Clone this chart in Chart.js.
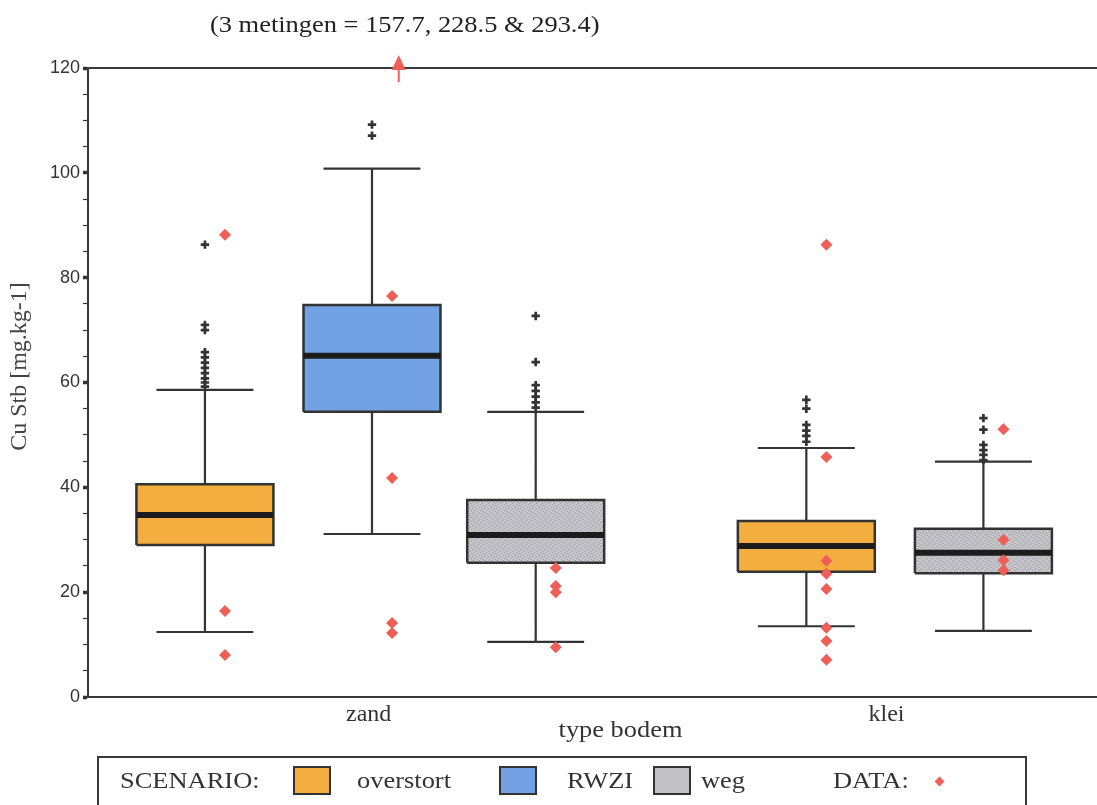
<!DOCTYPE html>
<html>
<head>
<meta charset="utf-8">
<script src="https://cdn.jsdelivr.net/npm/chart.js@4/dist/chart.umd.min.js"></script>
<style>
html,body{margin:0;padding:0;background:#fff;}
#wrap{position:relative;width:1097px;height:805px;overflow:hidden;background:#fff;}
#c{position:absolute;left:0;top:0;}
#legend{position:absolute;left:97px;top:756px;width:930px;height:80px;border:2px solid #3a3a3a;box-sizing:border-box;font-family:"Liberation Serif","Times New Roman",serif;font-size:23px;color:#333;}
#legend .t{position:absolute;top:9px;white-space:nowrap;transform:scaleX(1.15);transform-origin:left center;line-height:28px;}
#legend .sw{position:absolute;top:8px;width:38px;height:29px;border:2px solid #333;box-sizing:border-box;}
#legend .dm{position:absolute;top:20px;width:7px;height:7px;background:#ef5f57;transform:rotate(45deg);}
</style>
</head>
<body>
<div id="wrap">
<canvas id="c" width="1097" height="805"></canvas>
<div id="legend"></div>
</div>
<script>
// ---- data ----
const groups = ['zand', 'klei'];
const groupCenters = [1.98, 5.08];
const scenarios = ['overstort', 'RWZI', 'weg'];
const boxScenario = ['overstort', 'RWZI', 'weg', 'overstort', 'weg'];
const boxPos = [1.0, 2.0, 2.98, 4.60, 5.66];
const q1 = [29.0, 54.4, 25.6, 23.9, 23.6];
const medians = [34.7, 65.1, 30.9, 28.8, 27.5];
const q3 = [40.6, 74.8, 37.6, 33.6, 32.1];
const whiskerLow = [12.4, 31.1, 10.5, 13.5, 12.6];
const whiskerHigh = [58.6, 100.8, 54.4, 47.5, 44.9];
const outliers = [
  [86.3, 71.0, 70.0, 65.8, 64.8, 63.8, 62.8, 61.8, 60.8, 60.0, 59.2],
  [109.2, 107.1],
  [72.7, 63.9, 59.5, 58.4, 57.3, 56.2, 55.2],
  [56.7, 55.0, 51.9, 50.8, 49.8, 48.7],
  [53.2, 51.0, 48.1, 47.1, 46.2, 45.2]
];
const measured = [
  [88.2, 16.4, 8.0],
  [76.5, 41.8, 14.1, 12.2],
  [24.6, 21.2, 20.0, 9.5],
  [86.3, 45.8, 26.0, 23.5, 20.6, 13.2, 10.7, 7.1],
  [51.1, 30.0, 26.1, 24.2]
];
const offScaleNote = '(3 metingen = 157.7, 228.5 & 293.4)';
const offScaleBox = 1;
const yTitle = 'Cu Stb [mg.kg-1]';
const xTitle = 'type bodem';

// ---- styles ----
const BOX_HALF = 0.41, CAP_HALF = 0.29, DATA_OFFSET = 0.12, ARROW_OFFSET = 0.16;
function greyPattern() {
  const p = document.createElement('canvas'); p.width = 6; p.height = 6;
  const g = p.getContext('2d');
  g.fillStyle = '#bfbfc5'; g.fillRect(0, 0, 6, 6);
  g.fillStyle = '#9d9da5';
  [[0,0],[3,1],[1,3],[4,4],[2,5],[5,2]].forEach(([a,b]) => g.fillRect(a, b, 1, 1));
  g.fillStyle = '#dadade';
  [[2,0],[5,1],[0,4],[3,3],[4,5],[1,2]].forEach(([a,b]) => g.fillRect(a, b, 1, 1));
  return g.createPattern(p, 'repeat');
}
const colours = { overstort: '#f3ae3f', RWZI: '#72a1e4', weg: greyPattern() };
const swatchCss = { overstort: '#f3ae3f', RWZI: '#72a1e4', weg: '#c0c0c5' };
const dataColour = '#ef5f57';
const ink = '#333333';
const serif = '"Liberation Serif", "Times New Roman", serif';

// ---- datasets ----
const datasets = [];
datasets.push({
  label: 'DATA', order: 0,
  data: measured.flatMap((vals, i) => vals.map(v => ({ x: boxPos[i] + DATA_OFFSET, y: v }))),
  pointStyle: 'rectRot', pointRadius: 6, backgroundColor: dataColour, borderColor: dataColour, borderWidth: 0
});
datasets.push({
  label: 'outliers', order: 1,
  data: outliers.flatMap((vals, i) => vals.map(v => ({ x: boxPos[i], y: v }))),
  pointStyle: 'cross', pointRadius: 4.2, borderWidth: 2.7, borderColor: ink, backgroundColor: ink
});
datasets.push({
  label: 'median', order: 2, showLine: true, pointRadius: 0, borderColor: '#1c1c1c', borderWidth: 6,
  data: medians.flatMap((m, i) => [{ x: boxPos[i] - BOX_HALF, y: m }, { x: boxPos[i] + BOX_HALF, y: m }, { x: boxPos[i], y: null }])
});
datasets.push({
  label: 'whiskers', order: 3, showLine: true, pointRadius: 0, borderColor: ink, borderWidth: 2.2,
  data: boxPos.flatMap((c, i) => [
    { x: c, y: q3[i] }, { x: c, y: whiskerHigh[i] }, { x: c, y: null },
    { x: c - CAP_HALF, y: whiskerHigh[i] }, { x: c + CAP_HALF, y: whiskerHigh[i] }, { x: c, y: null },
    { x: c, y: q1[i] }, { x: c, y: whiskerLow[i] }, { x: c, y: null },
    { x: c - CAP_HALF, y: whiskerLow[i] }, { x: c + CAP_HALF, y: whiskerLow[i] }, { x: c, y: null }
  ])
});
boxPos.forEach((c, i) => {
  datasets.push({
    label: boxScenario[i], order: 4, showLine: true, pointRadius: 0, fill: 'shape',
    backgroundColor: colours[boxScenario[i]], borderColor: ink, borderWidth: 2.5,
    data: [
      { x: c - BOX_HALF, y: q1[i] }, { x: c + BOX_HALF, y: q1[i] },
      { x: c + BOX_HALF, y: q3[i] }, { x: c - BOX_HALF, y: q3[i] },
      { x: c - BOX_HALF, y: q1[i] }
    ]
  });
});

const annotate = {
  id: 'annotate',
  afterDraw(chart) {
    const { ctx, chartArea } = chart;
    const xs = chart.scales.x, ys = chart.scales.y;
    const ax = xs.getPixelForValue(boxPos[offScaleBox] + ARROW_OFFSET);
    const top = chartArea.top;
    ctx.save();
    ctx.fillStyle = dataColour; ctx.strokeStyle = dataColour; ctx.lineWidth = 2;
    ctx.beginPath(); ctx.moveTo(ax, ys.getPixelForValue(117.3)); ctx.lineTo(ax, top); ctx.stroke();
    ctx.beginPath(); ctx.moveTo(ax, top - 13); ctx.lineTo(ax - 7, top + 2); ctx.lineTo(ax + 7, top + 2); ctx.closePath(); ctx.fill();
    ctx.restore();
    // note above the arrow
    ctx.save();
    ctx.translate(ax + 6, 26); ctx.scale(1.15, 1);
    ctx.fillStyle = '#222'; ctx.font = '23px ' + serif;
    ctx.textAlign = 'center'; ctx.textBaseline = 'middle';
    ctx.fillText(offScaleNote, 0, 0);
    ctx.restore();
    // y axis title
    ctx.save();
    ctx.translate(20, (chartArea.top + chartArea.bottom) / 2 - 16);
    ctx.rotate(-Math.PI / 2);
    ctx.fillStyle = '#444'; ctx.font = '24px ' + serif;
    ctx.textAlign = 'center'; ctx.textBaseline = 'middle';
    ctx.fillText(yTitle, 0, 0);
    ctx.restore();
    // x axis title
    ctx.save();
    ctx.translate((chartArea.left + chartArea.right) / 2 + 28, chartArea.bottom + 34);
    ctx.scale(1.1, 1);
    ctx.fillStyle = '#333'; ctx.font = '24px ' + serif;
    ctx.textAlign = 'center'; ctx.textBaseline = 'middle';
    ctx.fillText(xTitle, 0, 0);
    ctx.restore();
  }
};

new Chart(document.getElementById('c'), {
  type: 'scatter',
  data: { datasets },
  options: {
    responsive: false, animation: false, devicePixelRatio: 1,
    layout: { padding: 0, autoPadding: false },
    plugins: { legend: { display: false }, tooltip: { enabled: false } },
    scales: {
      x: {
        type: 'linear', position: 'bottom', min: 0.30, max: 6.34,
        afterFit: s => { s.height = 108; s.paddingLeft = 0; s.paddingRight = 0; },
        afterBuildTicks: s => { s.ticks = groupCenters.map(v => ({ value: v })); },
        ticks: {
          autoSkip: false, padding: 3, color: '#333',
          font: { family: serif, size: 24 },
          callback: v => groups[groupCenters.indexOf(v)]
        },
        grid: { display: false, drawTicks: false },
        border: { display: true, color: '#3a3a3a', width: 2 },
        title: { display: false }
      },
      x2: {
        type: 'linear', position: 'top', min: 0.30, max: 6.34,
        afterFit: s => { s.height = 68; s.paddingLeft = 0; s.paddingRight = 0; },
        ticks: { display: false },
        grid: { display: false, drawTicks: false },
        border: { display: true, color: '#3a3a3a', width: 2 }
      },
      y: {
        type: 'linear', min: 0, max: 120,
        afterFit: s => { s.width = 88; s.paddingTop = 0; s.paddingBottom = 0; },
        ticks: {
          stepSize: 5, padding: 3, color: '#333',
          font: { family: '"Liberation Sans", Arial, sans-serif', size: 18 },
          callback: v => (v % 20 === 0 ? String(v) : '')
        },
        grid: {
          drawOnChartArea: false, tickLength: 5, tickColor: '#333',
          tickWidth: c => (c.tick && c.tick.value % 20 === 0 ? 3.5 : 1.2)
        },
        border: { display: true, color: '#3a3a3a', width: 2 },
        title: { display: false }
      }
    }
  },
  plugins: [annotate]
});

// ---- HTML legend ----
const lg = document.getElementById('legend');
const legendLayout = [
  ['t', 'SCENARIO:', 21],
  ['sw', 'overstort', 194], ['t', 'overstort', 258],
  ['sw', 'RWZI', 400], ['t', 'RWZI', 468],
  ['sw', 'weg', 554], ['t', 'weg', 602],
  ['t', 'DATA:', 734], ['dm', '', 837]
];
legendLayout.forEach(([cls, txt, left]) => {
  const d = document.createElement('div');
  d.className = cls; d.style.left = left + 'px';
  if (cls === 't') d.textContent = txt;
  if (cls === 'sw') d.style.background = swatchCss[txt];
  lg.appendChild(d);
});
</script>
</body>
</html>
